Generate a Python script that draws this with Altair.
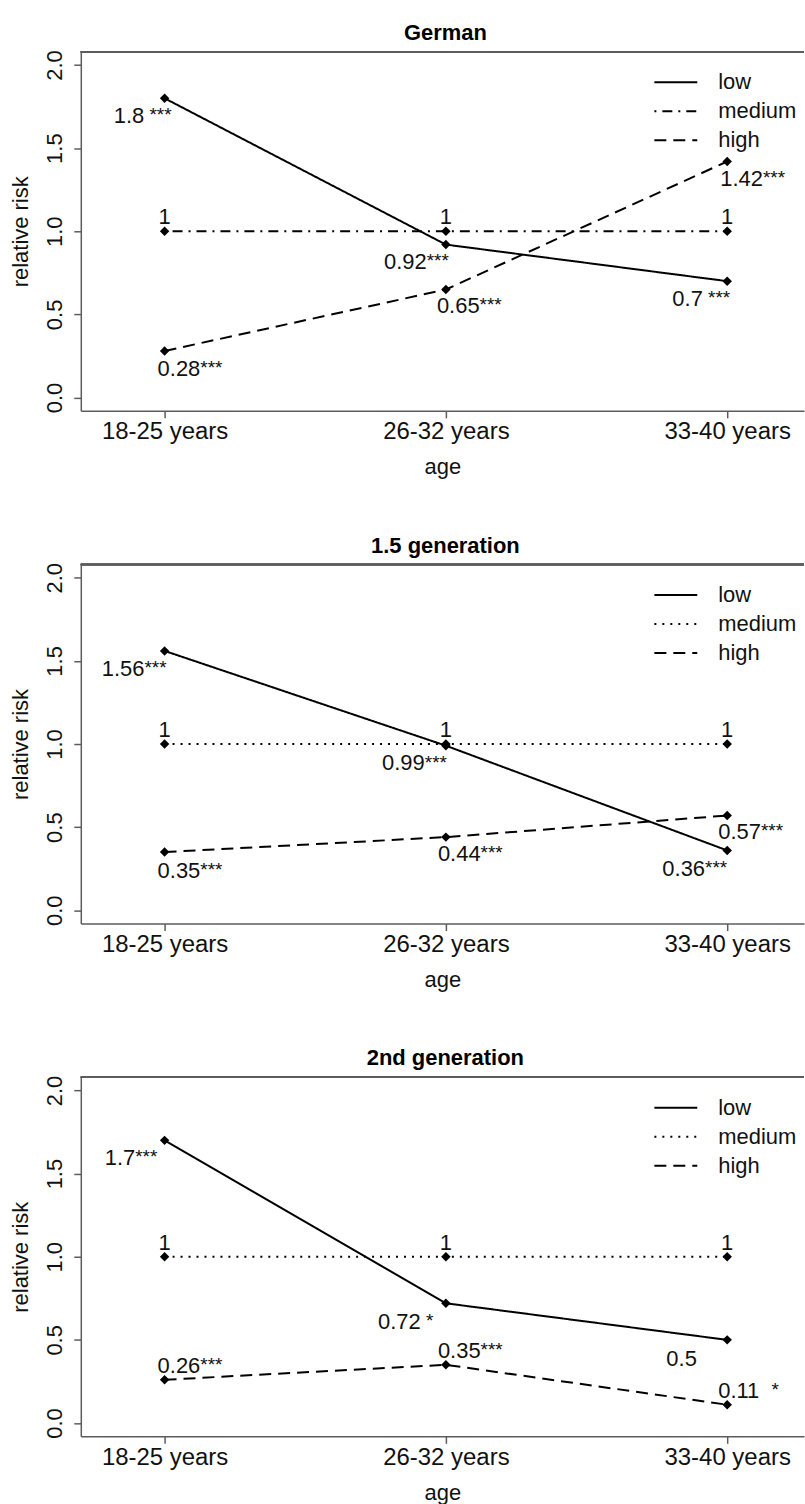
import altair as alt
import pandas as pd

# ---- data -------------------------------------------------------------
AGES = ["18-25 years", "26-32 years", "33-40 years"]
TIERS = ["low", "medium", "high"]
PANELS = ["German", "1.5 generation", "2nd generation"]

# relative risk at the three age groups
german_low = [1.8, 0.92, 0.7]
german_medium = [1, 1, 1]
german_high = [0.28, 0.65, 1.42]

gen15_low = [1.56, 0.99, 0.36]
gen15_medium = [1, 1, 1]
gen15_high = [0.35, 0.44, 0.57]

gen2_low = [1.7, 0.72, 0.5]
gen2_medium = [1, 1, 1]
gen2_high = [0.26, 0.35, 0.11]

# significance stars (leading blanks = extra gap after the number)
german_low_sig = [" ***", "***", " ***"]
german_high_sig = ["***", "***", "***"]
gen15_low_sig = ["***", "***", "***"]
gen15_high_sig = ["***", "***", "***"]
gen2_low_sig = ["***", " *", ""]
gen2_high_sig = ["***", "***", "  *"]
medium_sig = ["", "", ""]

# label placement in pixels: left edge of the number, vertical centre of the number
german_low_lab = [(-51, 16.5), (-62, 16.5), (-55, 17)]
german_high_lab = [(-7, 17), (-9, 16), (-7, 16.5)]
gen15_low_lab = [(-63, 17), (-64, 17), (-65, 17.5)]
gen15_high_lab = [(-7, 18), (-8, 16.5), (-9, 16)]
gen2_low_lab = [(-60, 17), (-68, 18), (-61, 18)]
gen2_high_lab = [(-7, -15), (-8, -15), (-9, -15)]
medium_lab = [(None, -15), (None, -15), (None, -15)]

# ---- styling ----------------------------------------------------------
FONT = "Liberation Sans"
TXT = "#111111"
AXC = "#5c5c5c"
W, H = 725, 360
PX_PER_X = 282.0
X_MIN = 1 - 84 / PX_PER_X
X_MAX = X_MIN + W / PX_PER_X
Y_MIN, Y_MAX = -0.08, 2.08
PX_PER_Y = H / (Y_MAX - Y_MIN)
NUM_FS, STAR_FS = 22, 19

SOLID, DASHED = [1, 0], [12, 7]
DOTTED, DOTDASH = [2, 6], [2, 6, 10, 6]


def text_width(s, fs):
    # Arial / Liberation Sans advance widths
    w = {".": 0.278, " ": 0.278, "*": 0.389}
    return sum(w.get(c, 0.556) for c in s) * fs


def panel(title, series, sigs, labs, dashes):
    line_rows, num_rows, star_rows = [], [], []
    for tier in TIERS:
        for i in range(3):
            v = series[tier][i]
            line_rows.append({"tier": tier, "pos": i + 1, "rr": v})
            txt = f"{v:g}"
            dx, dy = labs[tier][i]
            if dx is None:
                dx = -text_width(txt, NUM_FS) / 2
            base = dy + 0.716 * NUM_FS / 2  # baseline of the number
            num_rows.append({"pos": i + 1 + dx / PX_PER_X,
                             "rr": v - base / PX_PER_Y, "t": txt})
            sig = sigs[tier][i]
            if sig.strip():
                gap = (len(sig) - len(sig.lstrip())) * 0.278 * STAR_FS
                sx = dx + text_width(txt, NUM_FS) + gap
                star_rows.append({"pos": i + 1 + sx / PX_PER_X,
                                  "rr": v - (base - 2) / PX_PER_Y,
                                  "t": sig.strip()})
    df = pd.DataFrame(line_rows)

    x = alt.X("pos:Q", title="age",
              scale=alt.Scale(domain=[X_MIN, X_MAX], nice=False, zero=False),
              axis=alt.Axis(values=[1, 2, 3],
                            labelExpr="[" + ",".join(f"'{a}'" for a in AGES) + "][datum.value - 1]",
                            labelFontSize=24, labelPadding=2, labelColor=TXT,
                            labelFont=FONT, labelFlush=False,
                            tickSize=7, tickColor=AXC, tickWidth=1.5,
                            domainColor=AXC, domainWidth=1.5, grid=False,
                            titleFontSize=22, titleFontWeight="normal",
                            titleFont=FONT, titleColor=TXT, titlePadding=13))
    y = alt.Y("rr:Q", title="relative risk",
              scale=alt.Scale(domain=[Y_MIN, Y_MAX], nice=False, zero=False),
              axis=alt.Axis(values=[0, 0.5, 1, 1.5, 2], format=".1f",
                            labelAngle=270, labelAlign="center",
                            labelBaseline="bottom", labelFontSize=22,
                            labelPadding=7, labelColor=TXT, labelFont=FONT,
                            tickSize=7, tickColor=AXC, tickWidth=1.5,
                            domainColor=AXC, domainWidth=1.5, grid=False,
                            titleFontSize=22, titleFontWeight="normal",
                            titleFont=FONT, titleColor=TXT, titlePadding=11))

    legend = alt.Legend(orient="none", legendX=585.5, legendY=19.7, title=None,
                        symbolType="M-2.5,0H2.5", symbolSize=296,
                        symbolStrokeWidth=2, symbolStrokeColor="black",
                        symbolFillColor="transparent", symbolOffset=0,
                        labelFontSize=22, labelFont=FONT, labelColor=TXT,
                        labelOffset=31.5, rowPadding=7, padding=0)

    lines = alt.Chart(df).mark_line(color="black", strokeWidth=2).encode(
        x=x, y=y,
        strokeDash=alt.StrokeDash("tier:N", sort=TIERS,
                                  scale=alt.Scale(domain=TIERS, range=dashes),
                                  legend=legend))
    points = alt.Chart(df).mark_point(shape="diamond", filled=True, size=90,
                                      color="black", opacity=1).encode(x="pos:Q", y="rr:Q")
    nums = alt.Chart(pd.DataFrame(num_rows)).mark_text(
        align="left", baseline="alphabetic", fontSize=NUM_FS, font=FONT, color=TXT
    ).encode(x="pos:Q", y="rr:Q", text="t:N")
    stars = alt.Chart(pd.DataFrame(star_rows)).mark_text(
        align="left", baseline="alphabetic", fontSize=STAR_FS, font=FONT, color=TXT
    ).encode(x="pos:Q", y="rr:Q", text="t:N")
    frame_top = alt.Chart(df).mark_rule(color=AXC, strokeWidth=1.5).encode(
        x=alt.value(0), x2=alt.value(W), y=alt.value(0))

    return alt.layer(lines, points, nums, stars, frame_top).properties(
        width=W, height=H,
        title=alt.Title(title, fontSize=22, fontWeight="bold", font=FONT,
                        color="black", baseline="alphabetic", offset=-12, dx=3))


p1 = panel(PANELS[0],
           {"low": german_low, "medium": german_medium, "high": german_high},
           {"low": german_low_sig, "medium": medium_sig, "high": german_high_sig},
           {"low": german_low_lab, "medium": medium_lab, "high": german_high_lab},
           [SOLID, DOTDASH, DASHED])
p2 = panel(PANELS[1],
           {"low": gen15_low, "medium": gen15_medium, "high": gen15_high},
           {"low": gen15_low_sig, "medium": medium_sig, "high": gen15_high_sig},
           {"low": gen15_low_lab, "medium": medium_lab, "high": gen15_high_lab},
           [SOLID, DOTTED, DASHED])
p3 = panel(PANELS[2],
           {"low": gen2_low, "medium": gen2_medium, "high": gen2_high},
           {"low": gen2_low_sig, "medium": medium_sig, "high": gen2_high_sig},
           {"low": gen2_low_lab, "medium": medium_lab, "high": gen2_high_lab},
           [SOLID, DOTTED, DASHED])

chart = alt.vconcat(p1, p2, p3, spacing=57).resolve_scale(
    strokeDash="independent"
).resolve_legend(strokeDash="independent").configure(
    padding={"left": 10, "top": 20, "right": 0, "bottom": 0},
    background="white",
).configure_view(stroke=None)

chart.save("out.html", embed_options={"renderer": "svg", "actions": False})
